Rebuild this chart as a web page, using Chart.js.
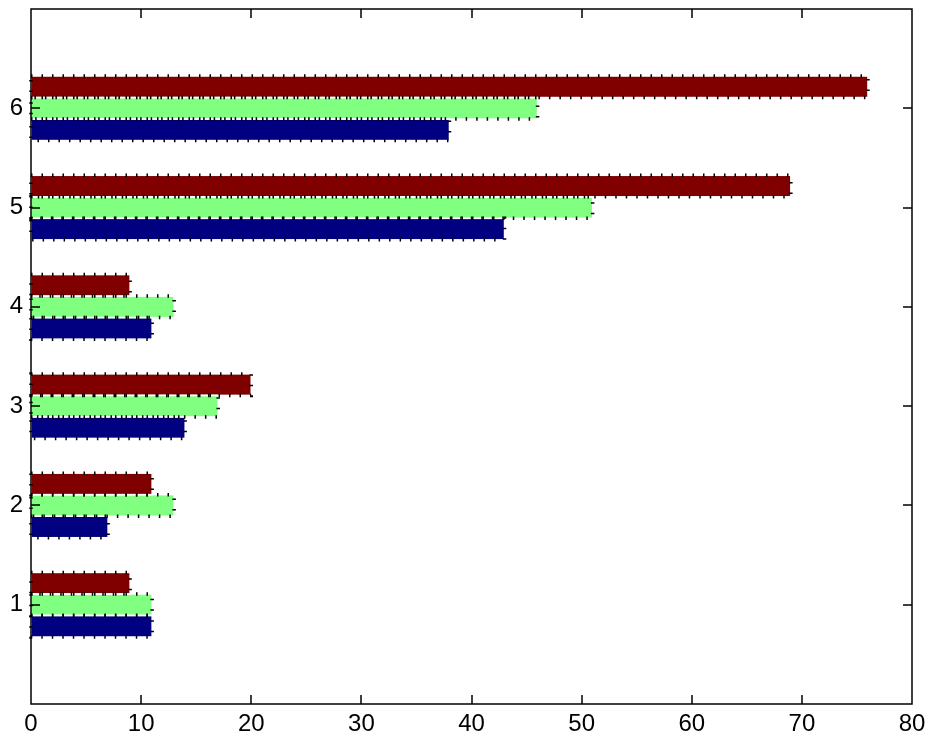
<!DOCTYPE html>
<html>
<head>
<meta charset="utf-8">
<script src="https://cdn.jsdelivr.net/npm/chart.js@4/dist/chart.umd.min.js"></script>
<style>
  body { margin: 0; background: #fff; }
  #wrap { width: 930px; height: 740px; }
</style>
</head>
<body>
<div id="wrap"><canvas id="chart" width="930" height="740"></canvas></div>
<script>
// group positions on the y axis and the three series
const groups = [1, 2, 3, 4, 5, 6];
const seriesBlue  = [11, 7, 14, 11, 43, 38];
const seriesGreen = [11, 13, 17, 13, 51, 46];
const seriesRed   = [9, 11, 20, 9, 69, 76];
const xTicks = [0, 10, 20, 30, 40, 50, 60, 70, 80];
const yTicks = [1, 2, 3, 4, 5, 6];

const toPoints = vals => vals.map((v, i) => ({ x: v, y: groups[i] }));

// dotted bar edges plus a MATLAB style box with inward tick marks
const matlabAxes = {
    id: 'matlabAxes',
    afterDatasetsDraw(chart) {
        const { ctx } = chart;
        const rects = [];
        chart.data.datasets.forEach((ds, i) => {
            chart.getDatasetMeta(i).data.forEach(bar => {
                const { x, y, base, height } = bar.getProps(['x', 'y', 'base', 'height'], true);
                rects.push([base, y - height / 2, x - base, height]);
            });
        });
        ctx.save();
        // thin light seam under the dots
        ctx.strokeStyle = '#fff';
        ctx.lineWidth = 1.5;
        rects.forEach(r => ctx.strokeRect(...r));
        // dotted black edge
        ctx.strokeStyle = '#000';
        ctx.lineWidth = 3.5;
        ctx.setLineDash([1.5, 9]);
        rects.forEach(r => ctx.strokeRect(...r));
        ctx.restore();
    },
    afterDraw(chart) {
        const { ctx, chartArea: a, scales } = chart;
        const len = 9;
        ctx.save();
        ctx.strokeStyle = '#000';
        ctx.lineWidth = 1.5;
        ctx.beginPath();
        ctx.rect(a.left, a.top, a.right - a.left, a.bottom - a.top);
        xTicks.forEach(v => {
            const px = Math.round(scales.x.getPixelForValue(v));
            ctx.moveTo(px, a.bottom); ctx.lineTo(px, a.bottom - len);
            ctx.moveTo(px, a.top); ctx.lineTo(px, a.top + len);
        });
        yTicks.forEach(v => {
            const py = Math.round(scales.y.getPixelForValue(v));
            ctx.moveTo(a.left, py); ctx.lineTo(a.left + len, py);
            ctx.moveTo(a.right, py); ctx.lineTo(a.right - len, py);
        });
        ctx.stroke();
        ctx.restore();
    }
};

const tickFont = { family: '"Liberation Sans", Arial, sans-serif', size: 24 };

new Chart(document.getElementById('chart'), {
    type: 'bar',
    data: {
        datasets: [
            { label: 'Series 3', data: toPoints(seriesRed), backgroundColor: '#800000' },
            { label: 'Series 2', data: toPoints(seriesGreen), backgroundColor: '#80ff80' },
            { label: 'Series 1', data: toPoints(seriesBlue), backgroundColor: '#000080' }
        ]
    },
    options: {
        indexAxis: 'y',
        responsive: false,
        animation: false,
        borderWidth: 0,
        categoryPercentage: 0.65,
        barPercentage: 1,
        layout: { padding: { top: 9, right: 18, left: 0, bottom: 0 } },
        plugins: { legend: { display: false }, tooltip: { enabled: false } },
        scales: {
            x: {
                type: 'linear',
                min: 0,
                max: 80,
                grid: { display: false, drawTicks: false },
                border: { display: false },
                ticks: { stepSize: 10, padding: 6, color: '#000', font: tickFont, maxRotation: 0 },
                afterFit: scale => {
                    scale.height = 36;
                    scale.paddingLeft = 0;
                    scale.paddingRight = 0;
                }
            },
            y: {
                type: 'linear',
                min: 0,
                max: 7,
                offset: false,
                grid: { display: false, drawTicks: false, offset: false },
                border: { display: false },
                ticks: { padding: 8, color: '#000', font: tickFont },
                afterBuildTicks: scale => { scale.ticks = yTicks.map(v => ({ value: v })); },
                afterFit: scale => {
                    scale.width = 31;
                    scale.paddingTop = 0;
                    scale.paddingBottom = 0;
                }
            }
        }
    },
    plugins: [matlabAxes]
});
</script>
</body>
</html>
